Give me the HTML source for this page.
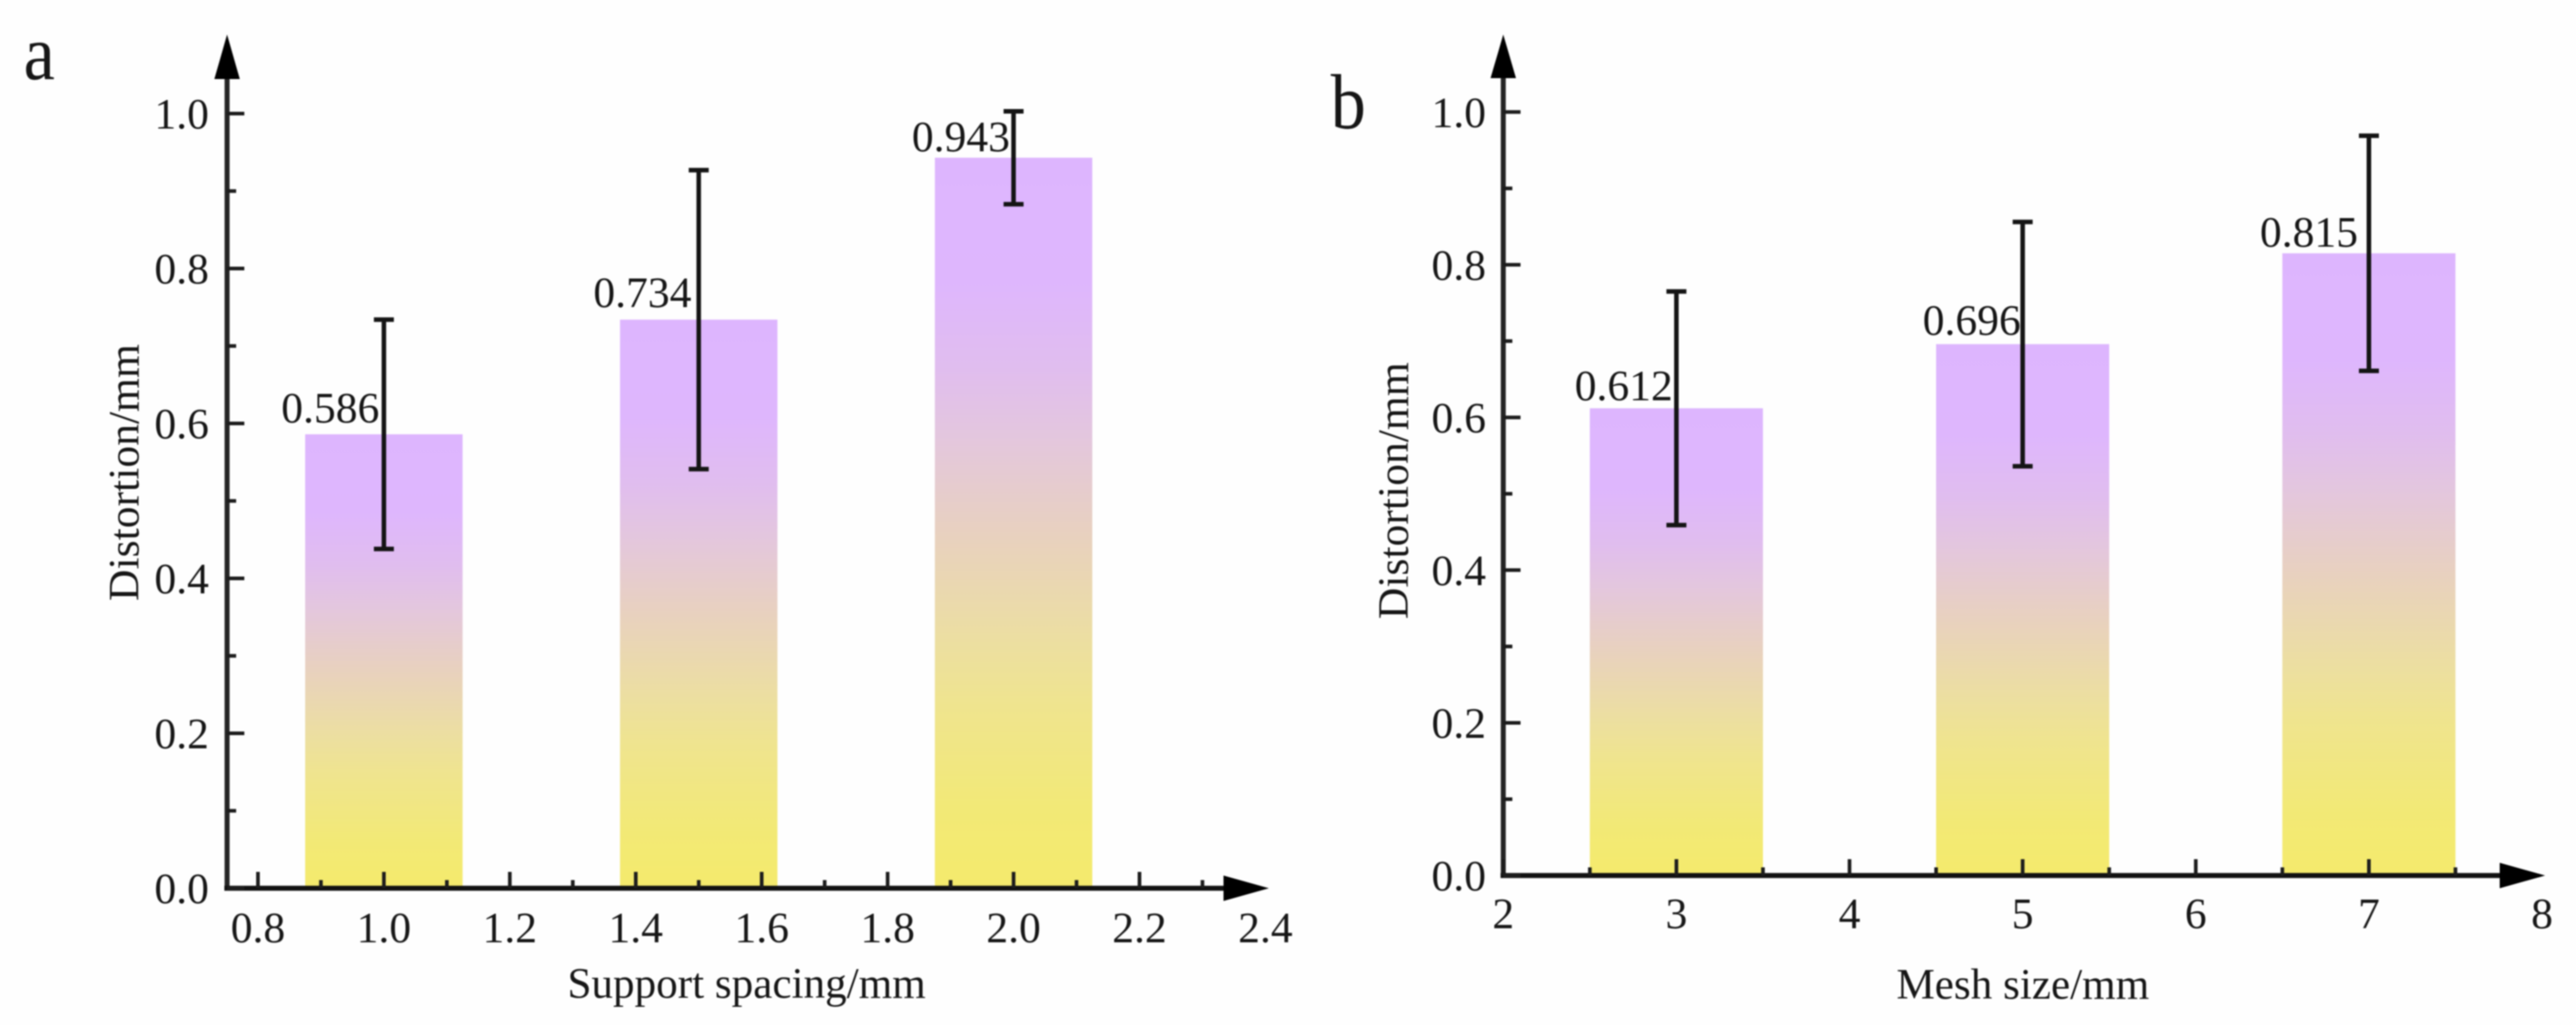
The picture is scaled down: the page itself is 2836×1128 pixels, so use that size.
<!DOCTYPE html>
<html lang="en">
<head>
<meta charset="utf-8">
<title>Distortion vs support spacing and mesh size</title>
<style>
  html, body { margin: 0; padding: 0; background: #fefefe; }
  body { width: 2836px; height: 1128px; overflow: hidden; }
  svg { display: block; filter: blur(0.7px); }
  text { font-family: "Liberation Serif", "Times New Roman", serif; fill: #161616; }
</style>
</head>
<body>
<svg id="figure" xmlns="http://www.w3.org/2000/svg" width="2836" height="1128" viewBox="0 0 2836 1128">
  <defs>
    <linearGradient id="barFill" x1="0" y1="0" x2="0" y2="1">
      <stop offset="0" stop-color="#ddb5fe"/>
      <stop offset="0.17" stop-color="#deb6fd"/>
      <stop offset="0.29" stop-color="#e0bdee"/>
      <stop offset="0.38" stop-color="#e3c6de"/>
      <stop offset="0.52" stop-color="#e8d1be"/>
      <stop offset="0.67" stop-color="#ecdf9f"/>
      <stop offset="0.75" stop-color="#efe48e"/>
      <stop offset="0.9" stop-color="#f2e975"/>
      <stop offset="1" stop-color="#f4ea6c"/>
    </linearGradient>
  </defs>
</svg>
<script>
// Panel a data
const supportSpacing = [1.0, 1.5, 2.0];
const supportDistortion = [0.586, 0.734, 0.943];
const supportError = [0.148, 0.193, 0.06];
const supportValueLabels = ['0.586', '0.734', '0.943'];
const supportXTickLabels = ['0.8', '1.0', '1.2', '1.4', '1.6', '1.8', '2.0', '2.2', '2.4'];
const supportXMinor = [0.9, 1.1, 1.3, 1.5, 1.7, 1.9, 2.1, 2.3];

// Panel b data
const meshSize = [3, 5, 7];
const meshDistortion = [0.612, 0.696, 0.815];
const meshError = [0.153, 0.16, 0.154];
const meshValueLabels = ['0.612', '0.696', '0.815'];
const meshXTickLabels = ['2', '3', '4', '5', '6', '7', '8'];
const meshXMinor = [2.5, 3.5, 4.5, 5.5, 6.5, 7.5];

// Shared y axis
const yTickLabels = ['0.0', '0.2', '0.4', '0.6', '0.8', '1.0'];
const yMinor = [0.1, 0.3, 0.5, 0.7, 0.9];

const NS = 'http://www.w3.org/2000/svg';
const svg = document.getElementById('figure');

function linear(d0, d1, r0, r1) {
  return function (v) { return r0 + (v - d0) * (r1 - r0) / (d1 - d0); };
}
function make(tag, attrs, parent) {
  const el = document.createElementNS(NS, tag);
  for (const k in attrs) el.setAttribute(k, attrs[k]);
  parent.appendChild(el);
  return el;
}
function hLine(parent, x1, x2, y, w, color) {
  return make('line', { x1: x1, x2: x2, y1: y, y2: y, stroke: color, 'stroke-width': w }, parent);
}
function vLine(parent, x, y1, y2, w, color) {
  return make('line', { x1: x, x2: x, y1: y1, y2: y2, stroke: color, 'stroke-width': w }, parent);
}

function drawPanel(p) {
  const g = make('g', {}, svg);
  
  
  const x = linear(p.xDomain[0], p.xDomain[1], p.xRange[0], p.xRange[1]);
  const y = linear(0, 1, p.y0, p.y1);

  // bars
  p.categories.forEach(function (c, i) {
    const top = y(p.values[i]);
    const left = x(c - p.barHalf);
    const bar = make('rect', { x: left, y: top, width: x(c + p.barHalf) - left, height: y(0) - top, fill: 'url(#barFill)' }, g);
    
    
  });

  // y axis line and arrow
  const yAxis = vLine(g, p.axisX, p.arrowBaseY - 2, y(0) + 2, 5.5, '#242424');
  
  
  const yArrow = make('polygon', { points: [p.axisX, 38, p.axisX - 14, p.arrowBaseY, p.axisX + 14, p.arrowBaseY].join(' '), fill: '#000' }, g);
  
  

  // x axis line and arrow
  const xAxis = hLine(g, p.axisX - 3, p.arrowBaseX, y(0), 5.5, '#111');
  
  
  const xArrow = make('polygon', { points: [p.arrowTipX, y(0), p.arrowBaseX, y(0) - 14, p.arrowBaseX, y(0) + 14].join(' '), fill: '#000' }, g);
  
  

  // y ticks
  yTickLabels.forEach(function (label) {
    const v = Number(label);
    const t = hLine(g, p.axisX, p.axisX + 19, y(v), 4, '#1c1c1c');
    
    
    const txt = make('text', { x: p.yLabelRight, y: y(v) + 16.5, 'font-size': 48, 'text-anchor': 'end' }, g);
    txt.textContent = label;
    
    
  });
  yMinor.forEach(function (v) {
    const t = hLine(g, p.axisX, p.axisX + 10, y(v), 4, '#1c1c1c');
    
    
  });

  // x ticks
  p.xTickLabels.forEach(function (label, i) {
    const v = Number(label);
    if (i < p.xTickLabels.length - 1) {
      const t = vLine(g, x(v), y(0) - 18, y(0), 4, '#1c1c1c');
      
      
    }
    const txt = make('text', { x: x(v), y: p.xLabelY, 'font-size': 48, 'text-anchor': 'middle' }, g);
    txt.textContent = label;
    
    
  });
  p.xMinor.forEach(function (v) {
    const t = vLine(g, x(v), y(0) - 9, y(0), 4, '#1c1c1c');
    
    
  });

  // error bars and value labels
  p.categories.forEach(function (c, i) {
    const cx = x(c);
    const hi = y(p.values[i] + p.errors[i]);
    const lo = y(p.values[i] - p.errors[i]);
    const stem = vLine(g, cx, hi, lo, 5, '#141414');
    
    
    const capTop = hLine(g, cx - 11, cx + 11, hi, 5, '#141414');
    
    
    const capBottom = hLine(g, cx - 11, cx + 11, lo, 5, '#141414');
    
    
    const nudge = p.labelNudge[i];
    const txt = make('text', { x: cx + nudge[0], y: y(p.values[i]) + nudge[1], 'font-size': 48, 'text-anchor': 'end' }, g);
    txt.textContent = p.valueLabels[i];
    
    
  });

  // titles
  const xt = make('text', { x: p.xTitleX, y: p.xTitleY, 'font-size': 47.5, 'text-anchor': 'middle' }, g);
  xt.textContent = p.xTitle;
  
  
  const yt = make('text', { 'font-size': 48, 'text-anchor': 'middle', transform: 'translate(' + p.yTitleX + ' ' + p.yTitleY + ') rotate(-90)' }, g);
  yt.textContent = 'Distortion/mm';
  
  
  const letter = make('text', { 'font-size': 86, transform: 'translate(' + p.letterX + ' ' + p.letterY + ') scale(0.9 1)' }, g);
  letter.textContent = p.id;
  
  
}

drawPanel({
  id: 'a', categories: supportSpacing, values: supportDistortion, errors: supportError,
  valueLabels: supportValueLabels, xTickLabels: supportXTickLabels, xMinor: supportXMinor,
  xDomain: [0.8, 2.2], xRange: [284, 1254.5], y0: 977.5, y1: 125, barHalf: 0.125,
  axisX: 250, arrowBaseY: 87, arrowBaseX: 1347, arrowTipX: 1397,
  yLabelRight: 230, xLabelY: 1037, xTitle: 'Support spacing/mm', xTitleX: 822, xTitleY: 1098,
  yTitleX: 152.5, yTitleY: 520, letterX: 26, letterY: 87,
  labelNudge: [[-5, -13], [-8, -14], [-4, -7]]
});
drawPanel({
  id: 'b', categories: meshSize, values: meshDistortion, errors: meshError,
  valueLabels: meshValueLabels, xTickLabels: meshXTickLabels, xMinor: meshXMinor,
  xDomain: [2, 7], xRange: [1655, 2608], y0: 963.5, y1: 123.3, barHalf: 0.5,
  axisX: 1655, arrowBaseY: 86, arrowBaseX: 2752, arrowTipX: 2802,
  yLabelRight: 1636, xLabelY: 1021.5, xTitle: 'Mesh size/mm', xTitleX: 2227, xTitleY: 1099,
  yTitleX: 1550, yTitleY: 540, letterX: 1465, letterY: 141,
  labelNudge: [[-4, -9], [-2, -10], [-12, -7]]
});
</script>
</body>
</html>
